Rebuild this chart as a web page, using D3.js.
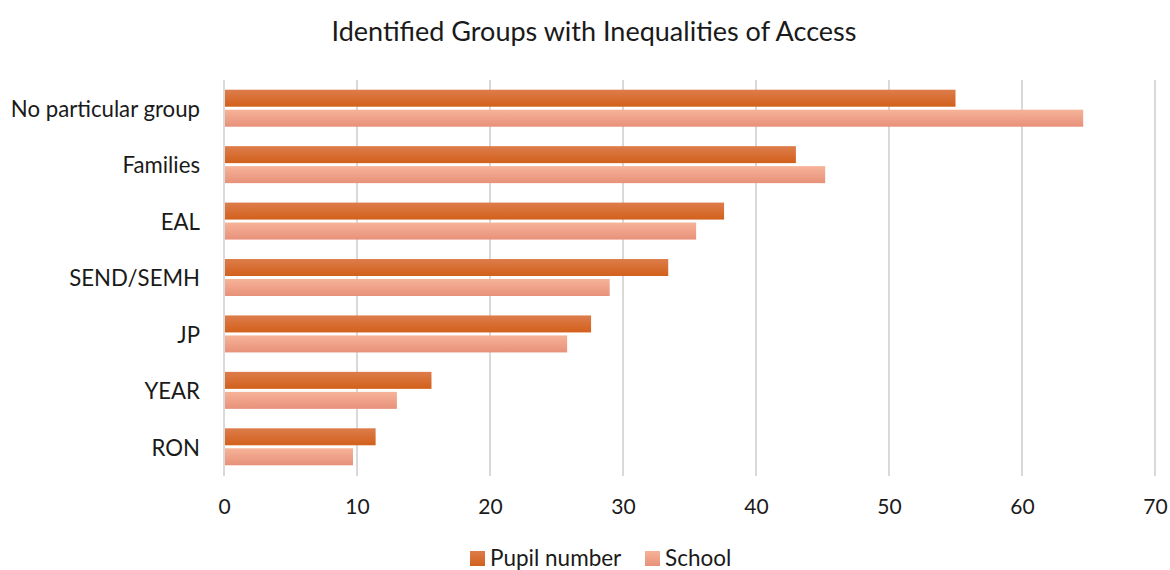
<!DOCTYPE html>
<html>
<head>
<meta charset="utf-8">
<script src="https://cdn.jsdelivr.net/npm/d3@7/dist/d3.min.js"></script>
<style>
  body { margin: 0; background: #fff; }
  svg { display: block; font-family: Lato, "Open Sans", sans-serif; }
</style>
</head>
<body>
<svg id="chart" width="1170" height="570"></svg>
<script>
// Groups, top to bottom
const categories = ["No particular group", "Families", "EAL", "SEND/SEMH", "JP", "YEAR", "RON"];
const seriesNames = ["Pupil number", "School"];
const pupilNumber = [55, 43, 37.6, 33.4, 27.6, 15.6, 11.4];
const school = [64.6, 45.2, 35.5, 29.0, 25.8, 13.0, 9.7];
const xTicks = [0, 10, 20, 30, 40, 50, 60, 70];

const svg = d3.select("#chart");
const W = 1170, H = 570;
const margin = { left: 224, right: 15, top: 81, bottom: 94 };

const x = d3.scaleLinear().domain([0, 70]).range([margin.left, W - margin.right]);
const y = d3.scaleBand().domain(categories).range([margin.top, H - margin.bottom]).paddingInner(0).paddingOuter(0);

const defs = svg.append("defs");
function grad(id, c1, c2) {
  const g = defs.append("linearGradient").attr("id", id).attr("x1", 0).attr("y1", 0).attr("x2", 0).attr("y2", 1);
  g.append("stop").attr("offset", "0%").attr("stop-color", c1);
  g.append("stop").attr("offset", "100%").attr("stop-color", c2);
}
grad("gPupil", "#dd7d4c", "#d2601b");
grad("gSchool", "#f6b398", "#e8917a");
const fills = ["url(#gPupil)", "url(#gSchool)"];

// Title
svg.append("text")
  .attr("x", 594).attr("y", 41)
  .attr("text-anchor", "middle")
  .attr("font-size", 27)
  .attr("fill", "#1a1a1a")
  .text("Identified Groups with Inequalities of Access");

// Vertical gridlines
svg.append("g").selectAll("line").data(xTicks).join("line")
  .attr("x1", d => x(d)).attr("x2", d => x(d))
  .attr("y1", margin.top - 1).attr("y2", H - margin.bottom)
  .attr("stroke", "#d9d9d9").attr("stroke-width", 2);

// X axis tick labels
const xAxis = d3.axisBottom(x).tickValues(xTicks).tickSize(0).tickPadding(0);
const gx = svg.append("g").attr("transform", `translate(0, ${H - margin.bottom + 26})`).call(xAxis);
gx.select(".domain").remove();
gx.selectAll("text").attr("font-size", 21).attr("fill", "#1a1a1a").attr("font-family", "Lato, sans-serif").attr("dy", "0.55em");

// Category labels
const yAxis = d3.axisLeft(y).tickSize(0).tickPadding(0);
const gy = svg.append("g").attr("transform", `translate(${margin.left - 24}, 0)`).call(yAxis);
gy.select(".domain").remove();
gy.selectAll("text").attr("font-size", 22.2).attr("fill", "#1a1a1a").attr("font-family", "Lato, sans-serif").attr("dy", "0.35em");

// Bars: two per group
const barH = 17, gap = 3;
const rows = categories.map((c, i) => ({ c, vals: [pupilNumber[i], school[i]] }));
const groups = svg.append("g").selectAll("g").data(rows).join("g");
groups.selectAll("rect").data(d => d.vals.map((v, k) => ({ c: d.c, v, k }))).join("rect")
  .attr("x", x(0) + 1)
  .attr("y", d => y(d.c) + y.bandwidth() / 2 - barH - gap / 2 + d.k * (barH + gap) - 1)
  .attr("width", d => x(d.v) - x(0) - 1)
  .attr("height", barH)
  .attr("fill", d => fills[d.k]);

// Legend
const legend = svg.append("g");
const legendX = [470, 645];
seriesNames.forEach((name, k) => {
  legend.append("rect").attr("x", legendX[k]).attr("y", 551).attr("width", 15).attr("height", 15).attr("fill", fills[k]);
  legend.append("text").attr("x", legendX[k] + 20).attr("y", 566)
    .attr("font-size", 22.5).attr("fill", "#1a1a1a").text(name);
});
</script>
</body>
</html>
